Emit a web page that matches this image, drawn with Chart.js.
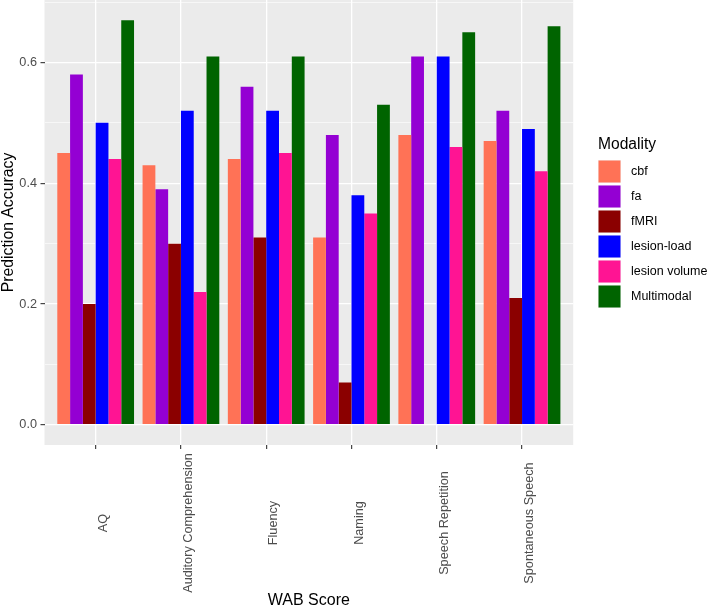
<!DOCTYPE html>
<html>
<head>
<meta charset="utf-8">
<script src="https://cdn.jsdelivr.net/npm/chart.js@4/dist/chart.umd.min.js"></script>
<style>
  html, body { margin: 0; padding: 0; background: #ffffff; }
  #c { display: block; }
</style>
</head>
<body>
<canvas id="c" width="709" height="610"></canvas>
<script>
// ---- Data ----
const categories = ['AQ', 'Auditory Comprehension', 'Fluency', 'Naming', 'Speech Repetition', 'Spontaneous Speech'];
const modalities = ['cbf', 'fa', 'fMRI', 'lesion-load', 'lesion volume', 'Multimodal'];
const cbf          = [0.45, 0.43, 0.44, 0.31, 0.48, 0.47];
const fa           = [0.58, 0.39, 0.56, 0.48, 0.61, 0.52];
const fMRI         = [0.20, 0.30, 0.31, 0.07, null, 0.21];
const lesionLoad   = [0.50, 0.52, 0.52, 0.38, 0.61, 0.49];
const lesionVolume = [0.44, 0.22, 0.45, 0.35, 0.46, 0.42];
const multimodal   = [0.67, 0.61, 0.61, 0.53, 0.65, 0.66];
const seriesValues = [cbf, fa, fMRI, lesionLoad, lesionVolume, multimodal];
const colors = ['#FF7256', '#9400D3', '#8B0000', '#0000FF', '#FF1493', '#006400'];
const yTickValues = [0, 0.1, 0.2, 0.3, 0.4, 0.5, 0.6, 0.7];
const yTickLabels = { '0': '0.0', '0.2': '0.2', '0.4': '0.4', '0.6': '0.6' };
const legendTitle = 'Modality';
const xTitle = 'WAB Score';
const yTitle = 'Prediction Accuracy';

const FONT = '"Liberation Sans", Arial, Helvetica, sans-serif';
const isMajor = v => Math.round(v * 10) % 2 === 0;

const datasets = modalities.map((m, k) => ({
  label: m,
  data: seriesValues[k].map((v, i) => ({ x: i, y: v })),
  backgroundColor: colors[k],
  borderWidth: 0,
  categoryPercentage: 0.9,
  barPercentage: 1.0
}));

const ggPlugin = {
  id: 'ggstyle',
  beforeDraw(chart) {
    const { ctx, chartArea: a } = chart;
    ctx.save();
    ctx.fillStyle = '#EBEBEB';
    ctx.fillRect(a.left, a.top, a.right - a.left, a.bottom - a.top);
    ctx.restore();
  },
  afterDraw(chart) {
    const { ctx, chartArea: a } = chart;
    const xs = chart.scales.x, ys = chart.scales.y;
    ctx.save();
    // y tick labels
    ctx.fillStyle = '#4D4D4D';
    ctx.font = '12.7px ' + FONT;
    ctx.textAlign = 'right';
    ctx.textBaseline = 'middle';
    yTickValues.forEach(v => {
      const key = String(Math.round(v * 10) / 10);
      if (yTickLabels[key]) ctx.fillText(yTickLabels[key], a.left - 7.5, ys.getPixelForValue(v));
    });
    // x tick labels (rotated, centred)
    categories.forEach((c, i) => {
      const px = xs.getPixelForValue(i);
      ctx.save();
      ctx.translate(px + 11.2, 523);
      ctx.rotate(-Math.PI / 2);
      ctx.textAlign = 'center';
      ctx.textBaseline = 'alphabetic';
      ctx.fillStyle = '#4D4D4D';
      ctx.font = '12.7px ' + FONT;
      ctx.fillText(c, 0, 0);
      ctx.restore();
    });
    // legend
    const lx = 598, ly = 160, step = 25, ks = 23;
    ctx.fillStyle = '#000000';
    ctx.font = '15.6px ' + FONT;
    ctx.textAlign = 'left';
    ctx.textBaseline = 'middle';
    ctx.fillText(legendTitle, lx, 145);
    chart.data.datasets.forEach((d, k) => {
      const y = ly + k * step;
      ctx.fillStyle = '#F2F2F2';
      ctx.fillRect(lx, y, ks, ks);
      ctx.fillStyle = d.backgroundColor;
      ctx.fillRect(lx + 0.5, y + 0.5, ks - 1, ks - 1);
      ctx.fillStyle = '#000000';
      ctx.font = '12.5px ' + FONT;
      ctx.fillText(d.label, 631, y + ks / 2);
    });
    ctx.restore();
  }
};

new Chart(document.getElementById('c'), {
  type: 'bar',
  data: { datasets },
  options: {
    responsive: false,
    animation: false,
    devicePixelRatio: 1,
    layout: { padding: { left: 0, right: 135.8, top: 0, bottom: 0 } },
    plugins: {
      legend: { display: false },
      tooltip: { enabled: false },
      title: { display: false }
    },
    scales: {
      x: {
        type: 'linear',
        min: -0.6,
        max: 5.6,
        offset: false,
        afterBuildTicks: s => { s.ticks = categories.map((c, i) => ({ value: i })); },
        afterFit: s => { s.height = 165; },
        ticks: { display: false },
        border: { display: false },
        grid: {
          offset: false,
          color: '#FFFFFF',
          lineWidth: 1.3,
          drawTicks: true,
          tickLength: 4,
          tickWidth: 1.1,
          tickColor: '#333333'
        },
        title: {
          display: true,
          text: xTitle,
          color: '#000000',
          font: { family: FONT, size: 16, lineHeight: 1.2 },
          padding: { top: 0, bottom: 0 }
        }
      },
      y: {
        type: 'linear',
        min: -0.0335,
        max: 0.7035,
        afterBuildTicks: s => { s.ticks = yTickValues.map(v => ({ value: v })); },
        afterFit: s => { s.width = 44.5; },
        ticks: { display: false },
        border: { display: false },
        grid: {
          color: '#FFFFFF',
          lineWidth: c => (c.tick && isMajor(c.tick.value)) ? 1.3 : 0.6,
          drawTicks: true,
          tickLength: 4,
          tickWidth: 1.1,
          tickColor: c => (c.tick && isMajor(c.tick.value)) ? '#333333' : 'rgba(0,0,0,0)'
        },
        title: {
          display: true,
          text: yTitle,
          color: '#000000',
          font: { family: FONT, size: 15.8, lineHeight: 1.1 },
          padding: { top: 0, bottom: 0 }
        }
      }
    }
  },
  plugins: [ggPlugin]
});
</script>
</body>
</html>
